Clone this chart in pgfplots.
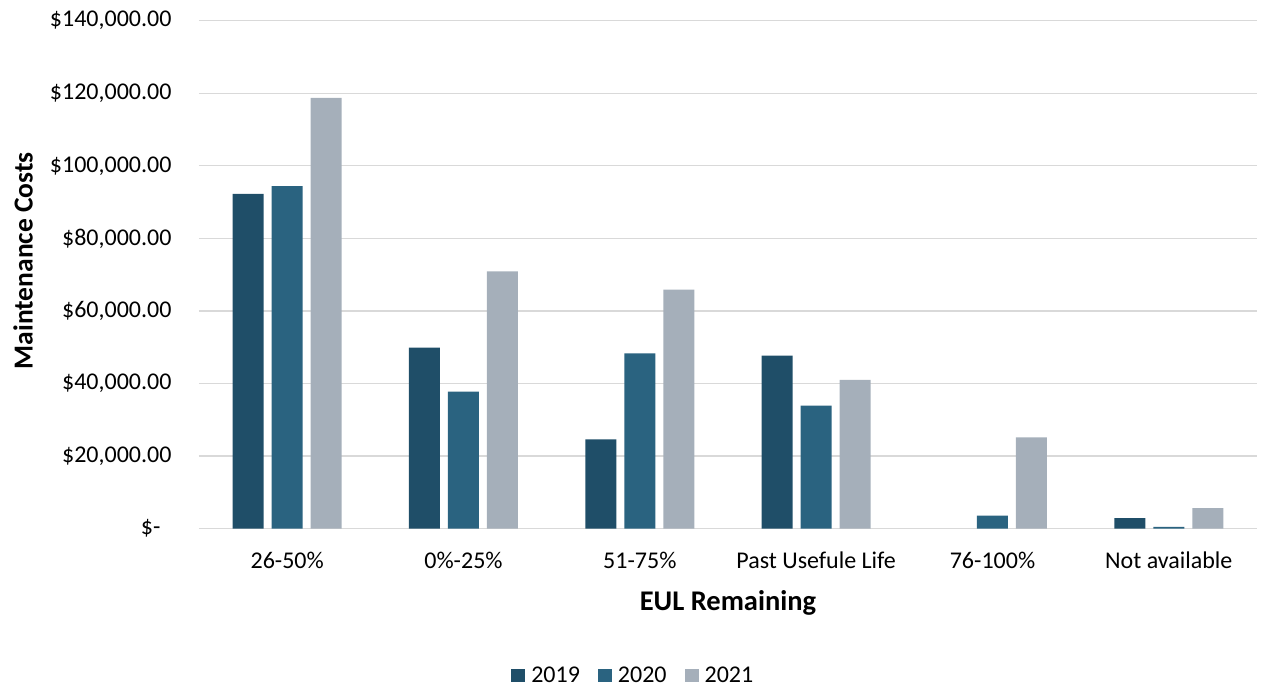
\documentclass[border=0pt]{standalone}
\usepackage{pgfplots}
\pgfplotsset{compat=1.18}
\usepackage{fontspec}
\setmainfont{Carlito}

\definecolor{c2019}{HTML}{1F4E68}
\definecolor{c2020}{HTML}{2A6380}
\definecolor{c2021}{HTML}{A5AFBA}
\definecolor{gridgray}{HTML}{D9D9D9}

\newcommand{\chartfont}{\fontsize{24}{28}\selectfont}
\newcommand{\labelfont}{\fontsize{27.5}{32}\selectfont\bfseries}
\newcommand{\xlabelfont}{\fontsize{28.5}{33}\selectfont\bfseries}

\begin{document}
\begin{tikzpicture}[x=1pt,y=1pt]
\useasboundingbox (-199,-158.3) rectangle (1065,528.7);
\begin{axis}[
  at={(0pt,0pt)}, anchor=south west,
  scale only axis, width=1058pt, height=508pt,
  ybar=8pt, bar width=31pt,
  xmin=-0.5, xmax=5.5, ymin=0, ymax=140000,
  axis line style={draw=none},
  major tick length=0pt,
  ymajorgrids, major grid style={gridgray, line width=1.3pt},
  xtick={0,1,2,3,4,5},
  xticklabels={26-50\%, 0\%-25\%, 51-75\%, Past Usefule Life, 76-100\%, Not available},
  ytick={0,20000,40000,60000,80000,100000,120000,140000},
  yticklabels={\$-\hspace*{11pt}, \$20{,}000.00, \$40{,}000.00, \$60{,}000.00, \$80{,}000.00, \$100{,}000.00, \$120{,}000.00, \$140{,}000.00},
  scaled y ticks=false,
  xticklabel style={font=\chartfont, yshift=-20pt},
  yticklabel style={font=\chartfont, xshift=-24pt},
  xlabel={EUL Remaining},
  ylabel={Maintenance Costs},
  xlabel style={font=\xlabelfont, at={(axis description cs:0.5,0)}, anchor=center, yshift=-74pt},
  ylabel style={font=\labelfont, at={(axis description cs:0,0.5)}, anchor=center, yshift=176pt, xshift=14pt},
  legend style={at={(axis description cs:0.4105,-0.288)}, anchor=center, draw=none,
    font=\chartfont, legend columns=-1,
    /tikz/every odd column/.append style={column sep=4pt},
    /tikz/every even column/.append style={column sep=16pt}},
  legend image code/.code={\fill[#1] (0pt,-6.5pt) rectangle (14pt,6.5pt);},
]
% 2019 has no cost recorded for 76-100%
\addplot[fill=c2019, draw=none] coordinates {(0,92240) (1,49900) (2,24600) (3,47700) (5,2900)};
\addplot[fill=c2020, draw=none] coordinates {(0,94380) (1,37800) (2,48300) (3,33900) (4,3600) (5,500)};
\addplot[fill=c2021, draw=none] coordinates {(0,118700) (1,70900) (2,65900) (3,41000) (4,25200) (5,5700)};
\legend{2019, 2020, 2021}
\end{axis}
\end{tikzpicture}
\end{document}
